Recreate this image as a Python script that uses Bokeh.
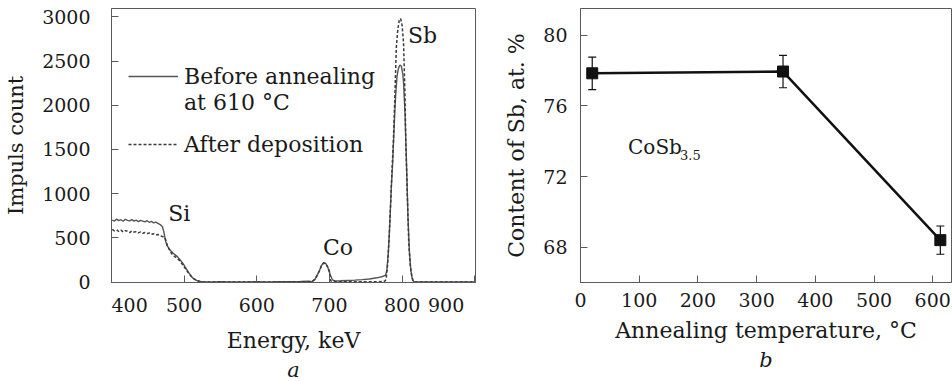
from bokeh.plotting import figure
from bokeh.layouts import row
from bokeh.models import (ColumnDataSource, Whisker, TeeHead, Legend, LegendItem,
                          FixedTicker, Title, Range1d)
from bokeh.core.properties import value
from bokeh.embed import file_html
from bokeh.resources import INLINE

# ---------------- data: panel a (RBS spectra) ----------------
solid_E = [401, 404, 407, 410, 413, 416, 419, 422, 425, 428,
           431, 434, 437, 440, 443, 446, 449, 452, 455, 458,
           461, 464, 467, 470, 472, 474, 476, 479, 482, 485,
           488, 491, 494, 497, 500, 503, 506, 509, 512, 515,
           518, 521, 525, 530, 540, 550, 560, 570, 580, 590,
           600, 610, 620, 630, 640, 650, 660, 670, 676, 680,
           683, 686, 689, 692, 695, 698, 701, 704, 708, 715,
           725, 735, 745, 755, 765, 772, 777,
           779, 781, 783, 785, 787, 789, 791, 793, 795, 797,
           799, 801, 802, 804, 806, 808, 810, 812, 814, 816,
           820, 840, 860, 880, 900]
solid_C = [700, 690, 712, 695, 705, 688, 710, 698, 692, 706,
           690, 700, 684, 698, 690, 680, 694, 676, 686, 670,
           678, 664, 650, 625, 570, 480, 420, 380, 350, 325,
           305, 285, 255, 225, 190, 150, 110, 75, 45, 28,
           15, 7, 3, 2, 0, 3, 0, 2, 0, 0,
           3, 0, 2, 4, 3, 5, 6, 10, 5, 30,
           75, 125, 185, 220, 210, 160, 85, 25, 12, 14,
           18, 22, 28, 35, 48, 60, 75,
           130, 330, 650, 1050, 1350, 1750, 2100, 2330, 2420, 2455,
           2440, 2350, 2250, 1900, 1350, 750, 350, 130, 35, 3,
           0, 0, 0, 0, 0]

dash_E = [401, 404, 407, 410, 413, 416, 419, 422, 425, 428,
          431, 434, 437, 440, 443, 446, 449, 452, 455, 458,
          461, 464, 467, 470, 473, 475, 477, 480, 483, 486,
          489, 492, 495, 498, 501, 504, 507, 510, 513, 516,
          519, 522, 526, 530, 540, 560, 580, 600, 620, 640,
          660, 670, 676, 680, 683, 686, 689, 692, 695, 698,
          700, 701, 702, 705, 710, 720, 740, 760, 772, 776,
          778, 780, 782, 784, 786, 788, 790, 792, 794, 796,
          798, 800, 802, 804, 805, 807, 809, 811, 813, 815,
          817, 820, 840, 860, 880, 900]
dash_C = [595, 580, 590, 572, 588, 566, 582, 575, 560, 578,
          565, 570, 556, 568, 552, 560, 548, 555, 540, 546,
          532, 538, 525, 515, 505, 470, 410, 360, 320, 295,
          275, 255, 230, 195, 160, 125, 90, 62, 40, 25,
          14, 6, 2, 0, 0, 0, 0, 0, 0, 0,
          2, 4, 8, 30, 75, 125, 185, 215, 205, 165,
          120, 30, 12, 6, 4, 3, 3, 4, 5, 10,
          30, 200, 480, 850, 1250, 1600, 2100, 2650, 2850, 2960,
          2980, 2900, 2700, 2100, 1600, 1035, 470, 206, 80, 15,
          0, 0, 0, 0, 0, 0]

peak_labels = ["Si", "Co", "Sb"]
peak_label_x = [478, 691, 808]
peak_label_y = [770, 390, 2790]

energy_ticks = [400, 500, 600, 700, 800, 900]
count_ticks = [0, 500, 1000, 1500, 2000, 2500, 3000]

# ---------------- data: panel b (Sb content) ----------------
temperature = [20, 345, 613]
sb_content = [77.85, 77.95, 68.4]
sb_error = [0.92, 0.92, 0.8]
temp_ticks = [0, 100, 200, 300, 400, 500, 600]
content_ticks = [68, 72, 76, 80]

FONT = "DejaVu Serif"
TXT = "#1a1a1a"
FRAME = "#5a5a5a"
TICK_FS = "19px"
LAB_FS = "22px"


def style(p):
    p.outline_line_color = FRAME
    p.outline_line_width = 1
    p.grid.visible = False
    p.background_fill_color = "white"
    p.border_fill_color = "white"
    for ax in p.axis:
        ax.axis_line_color = FRAME
        ax.major_tick_line_color = FRAME
        ax.major_tick_in = 7
        ax.major_tick_out = 0
        ax.minor_tick_line_color = None
        ax.major_label_text_font = FONT
        ax.major_label_text_font_size = TICK_FS
        ax.major_label_text_color = TXT
        ax.axis_label_text_font = FONT
        ax.axis_label_text_font_size = LAB_FS
        ax.axis_label_text_font_style = "normal"
        ax.axis_label_text_color = TXT


def panel_letter(p, letter):
    p.add_layout(Title(text=letter, align="center", text_font=FONT, text_font_size="21px",
                       text_font_style="italic", text_color=TXT, standoff=0), "below")


# ---------------- panel a ----------------
p1 = figure(width=500, height=381, x_range=Range1d(400, 901), y_range=Range1d(-5, 3094),
            output_backend="svg", toolbar_location=None,
            min_border_left=111, min_border_right=25, min_border_top=8, min_border_bottom=99)
style(p1)
p1.xaxis.ticker = FixedTicker(ticks=energy_ticks)
p1.xaxis.major_label_overrides = {400: "\u2007\u2007\u2007400", 900: "900\u2007\u2007\u2007"}
p1.yaxis.ticker = FixedTicker(ticks=count_ticks)
p1.xaxis.axis_label = "Energy, keV"
p1.yaxis.axis_label = "Impuls count"
p1.yaxis.axis_label_text_font_size = "21px"
p1.xaxis.major_label_standoff = 11
p1.xaxis.axis_label_standoff = 9
p1.yaxis.major_label_standoff = 21
p1.yaxis.axis_label_standoff = 11

r_solid = p1.line(solid_E, solid_C, line_color="#555555", line_width=1.4)
r_dash = p1.line(dash_E, dash_C, line_color="#3a3a3a", line_width=1.5, line_dash="3 2")
r_dummy = p1.line([], [], line_alpha=0)

p1.text(x=peak_label_x, y=peak_label_y, text=peak_labels, text_font=value(FONT),
        text_font_size=LAB_FS, text_baseline="middle", text_align="left", text_color=TXT)


def mk_legend(items, loc):
    return Legend(items=items, location=loc, border_line_color=None, background_fill_alpha=0,
                  padding=0, margin=0, spacing=0, label_standoff=6, glyph_width=50,
                  glyph_height=26, label_height=26, label_text_font=FONT,
                  label_text_font_size=LAB_FS, label_text_color=TXT)


leg1 = mk_legend([LegendItem(label="Before annealing", renderers=[r_solid]),
                  LegendItem(label="at 610 °C", renderers=[r_dummy])], (17, 167))
leg2 = mk_legend([LegendItem(label="After deposition", renderers=[r_dash])], (17, 125))
p1.add_layout(leg1)
p1.add_layout(leg2)
panel_letter(p1, "a")

# ---------------- panel b ----------------
p2 = figure(width=452, height=381, x_range=Range1d(0, 632), y_range=Range1d(66.0, 81.52),
            output_backend="svg", toolbar_location=None,
            min_border_left=80, min_border_right=1, min_border_top=8, min_border_bottom=99)
style(p2)
p2.xaxis.ticker = FixedTicker(ticks=temp_ticks)
p2.yaxis.ticker = FixedTicker(ticks=content_ticks)
p2.xaxis.axis_label = "Annealing temperature, °C"
p2.yaxis.axis_label = "Content of Sb, at. %"
p2.xaxis.major_label_standoff = 10
p2.xaxis.axis_label_standoff = 8
p2.yaxis.major_label_standoff = 13
p2.yaxis.axis_label_standoff = 11

src = ColumnDataSource(dict(
    x=temperature,
    y=sb_content,
    upper=[v + e for v, e in zip(sb_content, sb_error)],
    lower=[v - e for v, e in zip(sb_content, sb_error)],
))
p2.add_layout(Whisker(base="x", upper="upper", lower="lower", source=src,
                      line_color="#111111", line_width=1.2,
                      upper_head=TeeHead(size=8, line_color="#111111", line_width=1.2),
                      lower_head=TeeHead(size=8, line_color="#111111", line_width=1.2)))
p2.line("x", "y", source=src, line_color="#111111", line_width=2.5)
p2.scatter("x", "y", source=src, marker="square", size=11, fill_color="#111111",
           line_color="#111111")

p2.text(x=[81], y=[73.68], text=["CoSb"], text_font=value(FONT), text_font_size="20px",
        text_baseline="middle", text_align="left", text_color=TXT)
p2.text(x=[81], y=[73.68], text=["3.5"], text_font=value(FONT), text_font_size="13px",
        text_baseline="middle", text_align="left", text_color=TXT, x_offset=52, y_offset=8)
panel_letter(p2, "b")

layout = row(p1, p2)
open("out.html", "w").write(file_html(layout, INLINE))
